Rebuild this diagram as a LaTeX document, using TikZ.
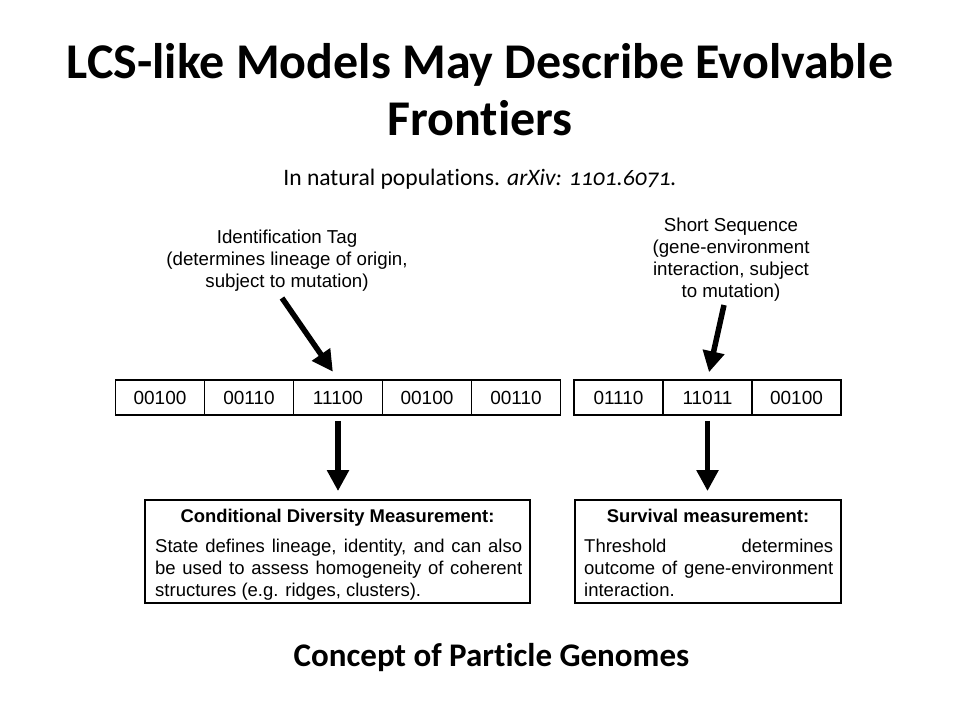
\documentclass[tikz,border=0pt]{standalone}
\usepackage{fontspec}
\setmainfont{Liberation Sans}
\newfontfamily\titlefont{Carlito}[Numbers=OldStyle, Ligatures=NoCommon]
\usetikzlibrary{arrows.meta}

\tikzset{
  cell/.style={draw, line width=1.8pt, minimum width=89pt, minimum height=35pt,
    inner sep=0pt, font=\fontsize{19}{22}\selectfont},
  measbox/.style={draw, line width=1.8pt, minimum height=103pt, inner sep=0pt},
  note/.style={align=center, inner sep=0pt, font=\fontsize{18.7}{22}\selectfont},
  bodytext/.style={align=justify, inner sep=0pt, anchor=north west,
    font=\fontsize{18.5}{22}\selectfont},
  boxhead/.style={inner sep=0pt, anchor=base, font=\bfseries\fontsize{18.4}{22}\selectfont},
  bigarrow/.style={line width=5.5pt, -{Triangle[width=21pt,length=21pt]}},
}

\begin{document}
\begin{tikzpicture}[x=1pt, y=-1pt]
\useasboundingbox[fill=white] (0,0) rectangle (960,720);

% headings
\node[anchor=base, inner sep=0pt, font=\titlefont\bfseries\fontsize{50}{58}\selectfont]
  (title1) at (480,78) {LCS-like Models May Describe Evolvable};
\node[anchor=base, inner sep=0pt, font=\titlefont\bfseries\fontsize{50}{58}\selectfont]
  (title2) at (480,135) {Frontiers};
\node[anchor=base, inner sep=0pt, font=\titlefont\fontsize{23.6}{28}\selectfont]
  (sub) at (480,185) {In natural populations. \textit{arXiv: 1101.6071.}};

% genome strings
\node[cell] (g1) at (160,397.5) {00100};
\node[cell] (g2) at (249,397.5) {00110};
\node[cell] (g3) at (338,397.5) {11100};
\node[cell] (g4) at (427,397.5) {00100};
\node[cell] (g5) at (516,397.5) {00110};

\node[cell] (r1) at (618.5,397.5) {01110};
\node[cell] (r2) at (707.5,397.5) {11011};
\node[cell] (r3) at (796.5,397.5) {00100};

% labels above the strings
\node[note] (tag) at (287,261) {Identification Tag\\(determines lineage of origin,\\subject to mutation)};
\node[note] (seq) at (731,260) {Short Sequence\\(gene-environment\\interaction, subject\\to mutation)};

\coordinate (tagstart) at (282,298);
\coordinate (seqstart) at (724,305);
\draw[bigarrow, shorten >=9pt] (tagstart) -- (g3.north);
\draw[bigarrow, shorten >=7pt] (seqstart) -- (r2.north);

% measurement boxes
\node[measbox, minimum width=385pt] (cdm) at (337.5,551.5) {};
\node[measbox, minimum width=266pt] (surv) at (708,551.5) {};

\node[boxhead] (cdmhead) at (337.5,522) {Conditional Diversity Measurement:};
\node[bodytext, text width=367pt] (cdmbody) at (155,539)
  {State defines lineage, identity, and can also\linebreak
   be used to assess homogeneity of coherent\linebreak
   structures (e.g. ridges, clusters).};

\node[boxhead] (survhead) at (708,522) {Survival measurement:};
\node[bodytext, text width=249pt] (survbody) at (584,539)
  {Threshold determines\linebreak
   outcome of gene-environment\linebreak
   interaction.};

\draw[bigarrow, shorten <=5pt, shorten >=8pt] (g3.south) -- (g3.south |- cdm.north);
\draw[bigarrow, shorten <=5pt, shorten >=8pt] (r2.south) -- (r2.south |- surv.north);

% caption
\node[anchor=base, inner sep=0pt, font=\titlefont\bfseries\fontsize{33}{38}\selectfont]
  (caption) at (491.5,666) {Concept of Particle Genomes};
\end{tikzpicture}
\end{document}
